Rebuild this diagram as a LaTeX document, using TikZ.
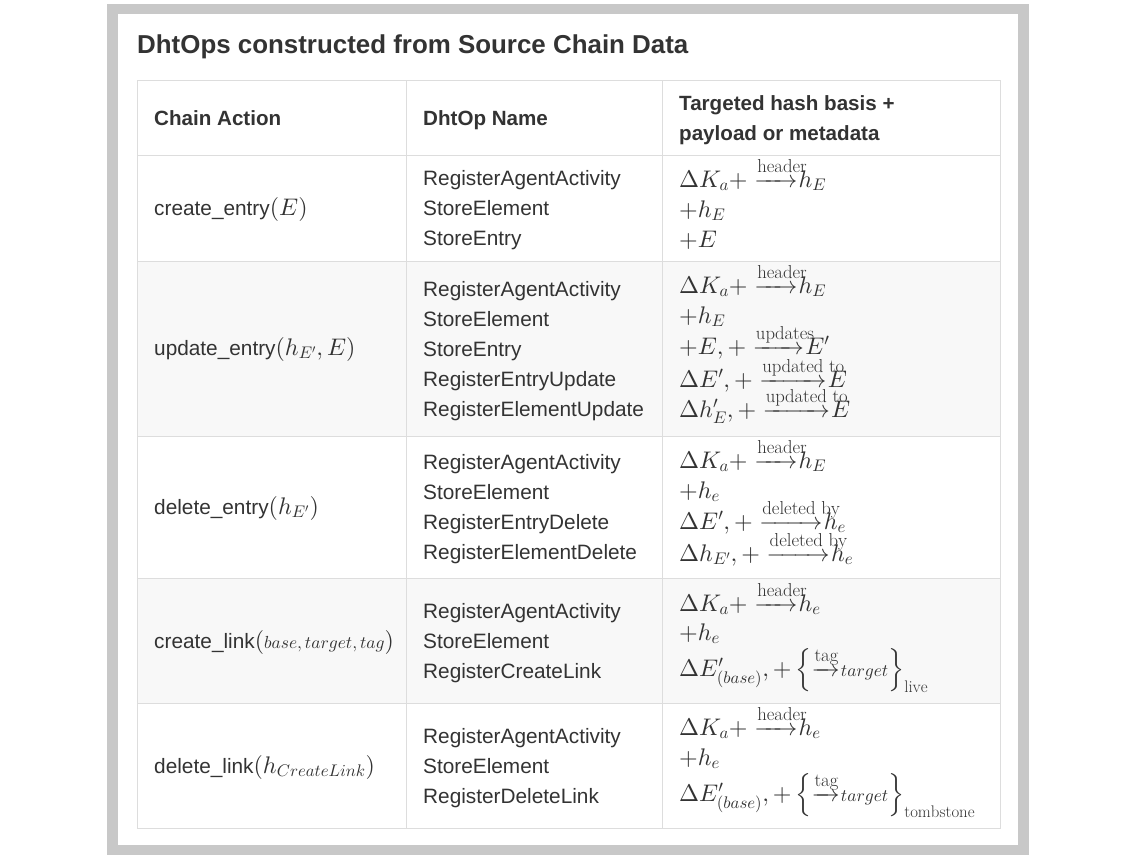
\documentclass[tikz,border=0pt]{standalone}
\usepackage{amsmath}
\usepackage{amssymb}
\usepackage{fontspec}
\setsansfont{Liberation Sans}
\usepackage{xcolor}
\usepackage{tikz}
% math in one design size, scaled
\DeclareFontShape{OT1}{cmr}{m}{n}{<->cmr10}{}
\DeclareFontShape{OML}{cmm}{m}{it}{<->cmmi10}{}
\DeclareFontShape{OMS}{cmsy}{m}{n}{<->cmsy10}{}
\DeclareFontShape{OMX}{cmex}{m}{n}{<->cmex10}{}
\definecolor{ink}{HTML}{333333}
\definecolor{rulegray}{HTML}{DDDDDD}
\definecolor{stripe}{HTML}{F8F8F8}
\definecolor{framegray}{HTML}{C8C8C8}
\tikzstyle{txt} = [anchor=base west, inner sep=0pt, text=ink, font=\sffamily\fontsize{20.8}{30}\selectfont]
\tikzstyle{hdr} = [txt, font=\sffamily\bfseries\fontsize{20.6}{30}\selectfont]
\tikzstyle{mth} = [anchor=base west, inner sep=0pt, text=ink, font=\fontsize{24}{30}\selectfont]
\tikzstyle{grid} = [draw=rulegray, line width=1pt]
\newcommand{\km}[1]{{\fontsize{24}{30}\selectfont$#1$}}
\newcommand{\sm}[1]{\mbox{\fontsize{17.5}{20}\selectfont$#1$}}
% labelled arrow: label, arrow length
\newcommand{\xto}[2]{\mathrel{\rlap{\hspace{3pt}\raisebox{14.5pt}{\fontsize{18.7}{20}\selectfont$\mathrm{#1}$}}\hbox to #2pt{\rightarrowfill}}\mskip-4mu}

\begin{document}
\begin{tikzpicture}[x=1pt,y=-1pt]
\fill[white] (0,0) rectangle (1136,860);
\fill[framegray] (107,4) rectangle (1029,855);
\fill[white] (118,14) rectangle (1018,845);
\fill[stripe] (137,261) rectangle (1000,436);
\fill[stripe] (137,578) rectangle (1000,703);
\path[grid] (137,80) rectangle (1000,828);
\path[grid] (406,80) -- (406,828);
\path[grid] (662,80) -- (662,828);
\path[grid] (137,155) -- (1000,155);
\path[grid] (137,261) -- (1000,261);
\path[grid] (137,436) -- (1000,436);
\path[grid] (137,578) -- (1000,578);
\path[grid] (137,703) -- (1000,703);

\node [txt, font=\sffamily\bfseries\fontsize{25.9}{30}\selectfont] (title) at (137,53) {DhtOps constructed from Source Chain Data};

\node [hdr] (hAction) at (154,125) {Chain Action};
\node [hdr] (hName) at (423,125) {DhtOp Name};
\node [hdr] (hBasis) at (679,110) {Targeted hash basis +};
\node [hdr] (hPayload) at (679,140) {payload or metadata};

% create_entry
\node [txt] (actCE) at (154,215) {create\_entry\km{(E)}};
\node [txt] (ceOpA) at (423,185) {RegisterAgentActivity};
\node [txt] (ceOpB) at (423,215) {StoreElement};
\node [txt] (ceOpC) at (423,245) {StoreEntry};
\node [mth] (ceMA) at (679,187) {$\Delta K_a + \xto{header}{43} h_E$};
\node [mth] (ceMB) at (679,217) {$+h_E$};
\node [mth] (ceMC) at (679,247) {$+E$};

% update_entry
\node [txt] (actUE) at (154,355) {update\_entry\km{(h_{E'}, E)}};
\node [txt] (ueOpA) at (423,296) {RegisterAgentActivity};
\node [txt] (ueOpB) at (423,326) {StoreElement};
\node [txt] (ueOpC) at (423,356) {StoreEntry};
\node [txt] (ueOpD) at (423,386) {RegisterEntryUpdate};
\node [txt] (ueOpE) at (423,416) {RegisterElementUpdate};
\node [mth] (ueMA) at (679,293) {$\Delta K_a + \xto{header}{43} h_E$};
\node [mth] (ueMB) at (679,323) {$+h_E$};
\node [mth] (ueMC) at (679,354) {$+E, + \xto{updates}{51} E'$};
\node [mth] (ueMD) at (679,387) {$\Delta E', + \xto{updated\ to}{67} E$};
\node [mth] (ueME) at (679,417) {$\Delta h'_E, + \xto{updated\ to}{67} E$};

% delete_entry
\node [txt] (actDE) at (154,514) {delete\_entry\km{(h_{E'})}};
\node [txt] (deOpA) at (423,469) {RegisterAgentActivity};
\node [txt] (deOpB) at (423,499) {StoreElement};
\node [txt] (deOpC) at (423,529) {RegisterEntryDelete};
\node [txt] (deOpD) at (423,559) {RegisterElementDelete};
\node [mth] (deMA) at (679,468) {$\Delta K_a + \xto{header}{43} h_E$};
\node [mth] (deMB) at (679,498) {$+h_e$};
\node [mth] (deMC) at (679,529) {$\Delta E', + \xto{deleted\ by}{63} h_e$};
\node [mth] (deMD) at (679,561) {$\Delta h_{E'}, + \xto{deleted\ by}{63} h_e$};

% create_link
\node [txt] (actCL) at (154,648) {create\_link\km{(\sm{base, target, tag})}};
\node [txt] (clOpA) at (423,618) {RegisterAgentActivity};
\node [txt] (clOpB) at (423,648) {StoreElement};
\node [txt] (clOpC) at (423,678) {RegisterCreateLink};
\node [mth] (clMA) at (679,611) {$\Delta K_a + \xto{header}{43} h_e$};
\node [mth] (clMB) at (679,640) {$+h_e$};
\node [mth] (clMC) at (679,676) {$\Delta E'_{(base)}, + \left\{ \xto{tag}{28} \sm{target} \right\}_{\mathrm{live}}$};

% delete_link
\node [txt] (actDL) at (154,773) {delete\_link\km{(h_{CreateLink})}};
\node [txt] (dlOpA) at (423,743) {RegisterAgentActivity};
\node [txt] (dlOpB) at (423,773) {StoreElement};
\node [txt] (dlOpC) at (423,803) {RegisterDeleteLink};
\node [mth] (dlMA) at (679,735) {$\Delta K_a + \xto{header}{43} h_e$};
\node [mth] (dlMB) at (679,765) {$+h_e$};
\node [mth] (dlMC) at (679,801) {$\Delta E'_{(base)}, + \left\{ \xto{tag}{28} \sm{target} \right\}_{\mathrm{tombstone}}$};
\end{tikzpicture}
\end{document}
